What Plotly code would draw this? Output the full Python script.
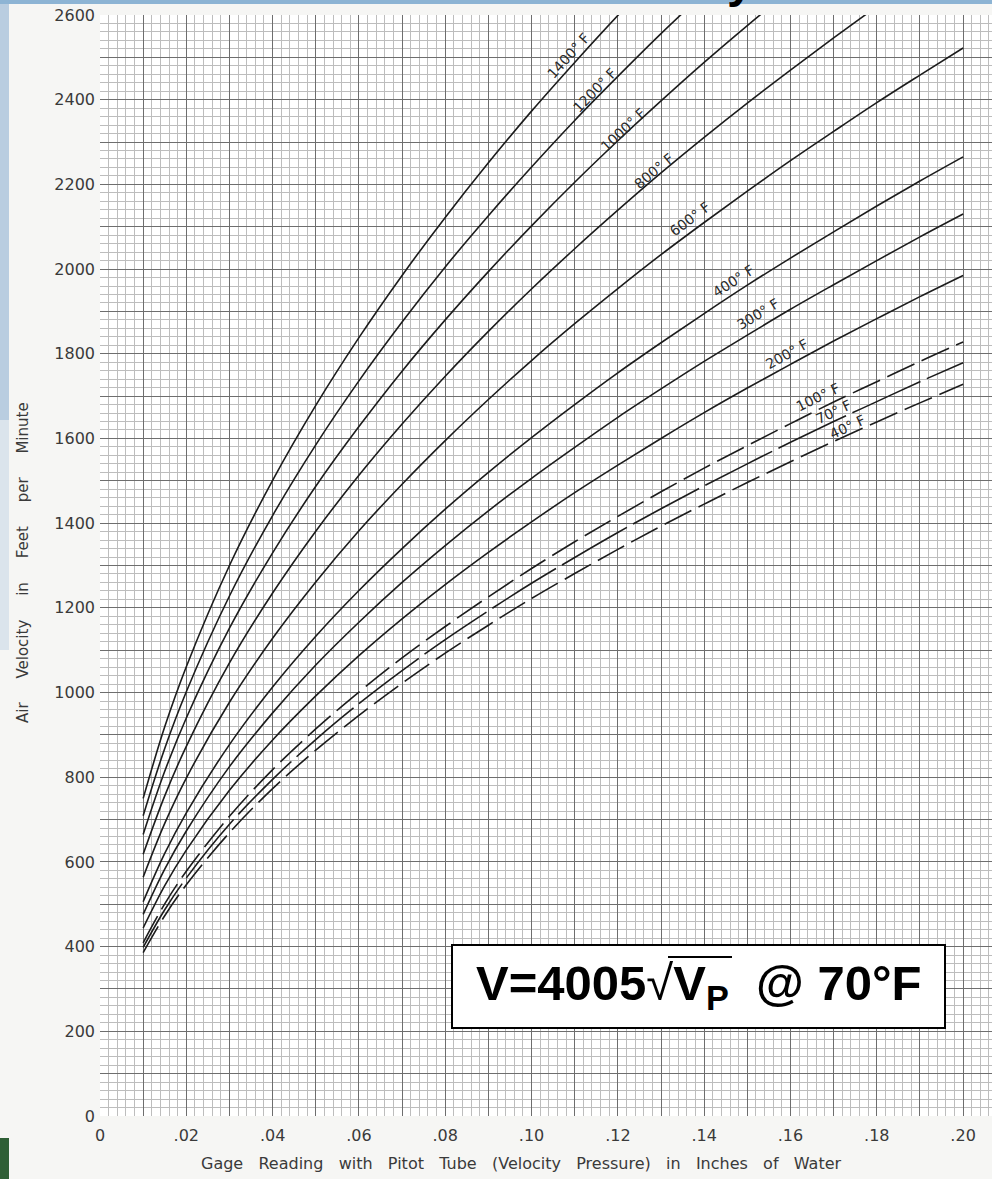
import plotly.graph_objects as go

# ---------------- data ----------------
VP = [0.01, 0.015, 0.02, 0.03, 0.04, 0.05, 0.06, 0.07, 0.08, 0.09, 0.10,
      0.11, 0.12, 0.13, 0.14, 0.15, 0.16, 0.17, 0.18, 0.19, 0.20]

TEMPS = ["40", "70", "100", "200", "300", "400", "600", "800", "1000", "1200", "1400"]

V_40 = [386, 473, 546, 669, 773, 864, 946, 1022, 1093, 1159, 1222,
        1281, 1338, 1393, 1445, 1496, 1545, 1593, 1639, 1684, 1728]
V_70 = [398, 487, 562, 689, 795, 889, 974, 1052, 1125, 1193, 1258,
        1319, 1378, 1434, 1488, 1540, 1591, 1640, 1687, 1734, 1779]
V_100 = [409, 501, 578, 708, 818, 914, 1001, 1082, 1156, 1226, 1293,
         1356, 1416, 1474, 1530, 1583, 1635, 1686, 1734, 1782, 1828]
V_200 = [444, 544, 628, 769, 888, 992, 1087, 1174, 1255, 1331, 1403,
         1472, 1537, 1600, 1661, 1719, 1775, 1830, 1883, 1935, 1985]
V_300 = [476, 583, 673, 825, 952, 1065, 1166, 1260, 1347, 1429, 1506,
         1579, 1650, 1717, 1782, 1844, 1905, 1963, 2020, 2076, 2130]
V_400 = [506, 620, 716, 877, 1013, 1133, 1241, 1340, 1433, 1520, 1602,
         1680, 1755, 1826, 1895, 1962, 2026, 2088, 2149, 2208, 2265]
V_600 = [564, 691, 798, 977, 1128, 1261, 1382, 1492, 1595, 1692, 1784,
         1871, 1954, 2034, 2110, 2184, 2256, 2325, 2393, 2458, 2522]
V_800 = [618, 756, 873, 1070, 1235, 1381, 1513, 1634, 1747, 1853, 1953,
         2048, 2139, 2227, 2311, 2392, 2470, 2546, 2620, 2692]
V_1000 = [665, 814, 940, 1152, 1330, 1487, 1628, 1759, 1880, 1994, 2102,
          2205, 2303, 2397, 2488, 2575, 2659]
V_1200 = [709, 868, 1002, 1228, 1418, 1585, 1736, 1875, 2005, 2126, 2241,
          2351, 2455, 2556, 2652]
V_1400 = [750, 919, 1061, 1300, 1501, 1678, 1838, 1985, 2122, 2251, 2373,
          2488, 2599, 2705]

SERIES = [V_40, V_70, V_100, V_200, V_300, V_400, V_600, V_800, V_1000, V_1200, V_1400]

X_TICK_VALS = [0, 0.02, 0.04, 0.06, 0.08, 0.10, 0.12, 0.14, 0.16, 0.18, 0.20]
X_TICK_TEXT = ["0", ".02", ".04", ".06", ".08", ".10", ".12", ".14", ".16", ".18", ".20"]
Y_TICK_VALS = [0, 200, 400, 600, 800, 1000, 1200, 1400, 1600, 1800, 2000, 2200, 2400, 2600]
Y_TICK_TEXT = ["0", "200", "400", "600", "800", "1000", "1200", "1400", "1600", "1800",
               "2000", "2200", "2400", "2600"]

# ---------------- styling / placement ----------------
DASH = {"40": "30px,8px", "70": "75px,7px", "100": "30px,8px"}
LABEL_POS = {  # (x, y, angle) for the curve captions
    "1400": (0.1085, 2503, -48), "1200": (0.1147, 2423, -46), "1000": (0.1212, 2328, -43),
    "800": (0.1284, 2231, -40), "600": (0.1367, 2118, -37), "400": (0.1467, 1973, -33),
    "300": (0.1525, 1893, -31), "200": (0.1592, 1799, -29), "100": (0.1664, 1697, -26),
    "70": (0.1699, 1662, -25), "40": (0.1731, 1626, -25),
}
LINE_COLOR = "#1c1c1c"
MAJOR_GRID = "#6e6e6e"
MINOR_GRID = "#bdbdbd"
TICK_FONT = dict(family="DejaVu Sans", size=16, color="#3a3a3a")

fig = go.Figure()
for t, vals in zip(TEMPS, SERIES):
    fig.add_trace(go.Scatter(
        x=VP[:len(vals)], y=vals, mode="lines", name=t + "° F",
        line=dict(color=LINE_COLOR, width=1.6, shape="spline", smoothing=1.0,
                  dash=DASH.get(t, "solid")),
        showlegend=False, hoverinfo="skip"))

# grid: heavy line every 0.01 / 100, fine lines every 0.002 / 20
x_grid = [round(i * 0.01, 2) for i in range(0, 21)]
x_text = [X_TICK_TEXT[X_TICK_VALS.index(v)] if v in X_TICK_VALS else " " for v in x_grid]
y_grid = list(range(0, 2601, 100))
y_text = [Y_TICK_TEXT[Y_TICK_VALS.index(v)] if v in Y_TICK_VALS else " " for v in y_grid]

fig.update_xaxes(
    range=[0, 0.2067], tickmode="array", tickvals=x_grid, ticktext=x_text,
    showgrid=True, gridcolor=MAJOR_GRID, gridwidth=1, zeroline=False, showline=False,
    ticks="", tickfont=TICK_FONT, ticklabelstandoff=8,
    minor=dict(tickmode="linear", tick0=0, dtick=0.002, showgrid=True,
               gridcolor=MINOR_GRID, gridwidth=1, ticks=""),
)
fig.update_yaxes(
    range=[0, 2600], tickmode="array", tickvals=y_grid, ticktext=y_text,
    showgrid=True, gridcolor=MAJOR_GRID, gridwidth=1, zeroline=False, showline=False,
    ticks="", tickfont=TICK_FONT, ticklabelstandoff=4,
    minor=dict(tickmode="linear", tick0=0, dtick=20, showgrid=True,
               gridcolor=MINOR_GRID, gridwidth=1, ticks=""),
)

ann = []
for t, (lx, ly, ang) in LABEL_POS.items():
    ann.append(dict(x=lx, y=ly, xref="x", yref="y", text=t + "° F", showarrow=False,
                    textangle=ang, font=dict(family="DejaVu Sans", size=14, color="#2a2a2a"),
                    xanchor="center", yanchor="middle"))

NB = "\u00a0"
xtitle = (NB * 3).join("Gage Reading with Pitot Tube (Velocity Pressure) in Inches of Water".split(" "))
ytitle = (NB * 5).join("Air Velocity in Feet per Minute".split(" "))
ann.append(dict(x=0.472, y=-0.0427, xref="paper", yref="paper", text=xtitle, showarrow=False,
                font=dict(family="DejaVu Sans", size=16, color="#3a3a3a"),
                xanchor="center", yanchor="middle"))
ann.append(dict(x=-0.0863, y=0.5023, xref="paper", yref="paper", text=ytitle, showarrow=False,
                textangle=-90, font=dict(family="DejaVu Sans", size=15, color="#3a3a3a"),
                xanchor="center", yanchor="middle"))


def px_x(p):
    return (p - 100) / 892


def px_y(p):
    return (1116 - p) / 1101


# formula text (box drawn as a shape underneath)
formula = ("<b>V=4005</b>√<b>V<sub>P</sub></b>" + "<b>" + NB * 2 + "@ 70°F</b>")
ann.append(dict(x=px_x(698), y=px_y(986), xref="paper", yref="paper", text=formula, showarrow=False,
                font=dict(family="Liberation Sans", size=49, color="black"),
                xanchor="center", yanchor="middle", align="center"))

# slide title remnant at the top
ann.append(dict(x=px_x(740), y=px_y(9), xref="paper", yref="paper", text="<b>y</b>",
                showarrow=False, font=dict(family="Liberation Sans", size=48, color="black"),
                xanchor="center", yanchor="bottom"))

shapes = [
    # formula box
    dict(type="rect", xref="paper", yref="paper", x0=px_x(452), x1=px_x(945),
         y0=px_y(1028), y1=px_y(945), fillcolor="white", line=dict(color="black", width=2),
         layer="above"),
    # overline of the square root
    dict(type="line", xref="paper", yref="paper", x0=px_x(668), x1=px_x(732),
         y0=px_y(957), y1=px_y(957), line=dict(color="black", width=2), layer="above"),
    # slide background remnants
    dict(type="rect", xref="paper", yref="paper", x0=px_x(0), x1=px_x(1000), y0=px_y(0), y1=px_y(4),
         fillcolor="#8db4d4", line=dict(width=0), layer="above"),
    dict(type="rect", xref="paper", yref="paper", x0=px_x(0), x1=px_x(9), y0=px_y(0), y1=px_y(420),
         fillcolor="#b9cde0", line=dict(width=0), layer="below"),
    dict(type="rect", xref="paper", yref="paper", x0=px_x(0), x1=px_x(9), y0=px_y(420), y1=px_y(650),
         fillcolor="#dbe4ec", line=dict(width=0), layer="below"),
    dict(type="rect", xref="paper", yref="paper", x0=px_x(0), x1=px_x(9), y0=px_y(1138), y1=px_y(1179),
         fillcolor="#2f5f36", line=dict(width=0), layer="below"),
]

fig.update_layout(
    width=992, height=1179, margin=dict(l=100, r=0, t=15, b=63),
    paper_bgcolor="#f6f6f4", plot_bgcolor="white",
    annotations=ann, shapes=shapes, showlegend=False,
)

fig.write_html("out.html")
